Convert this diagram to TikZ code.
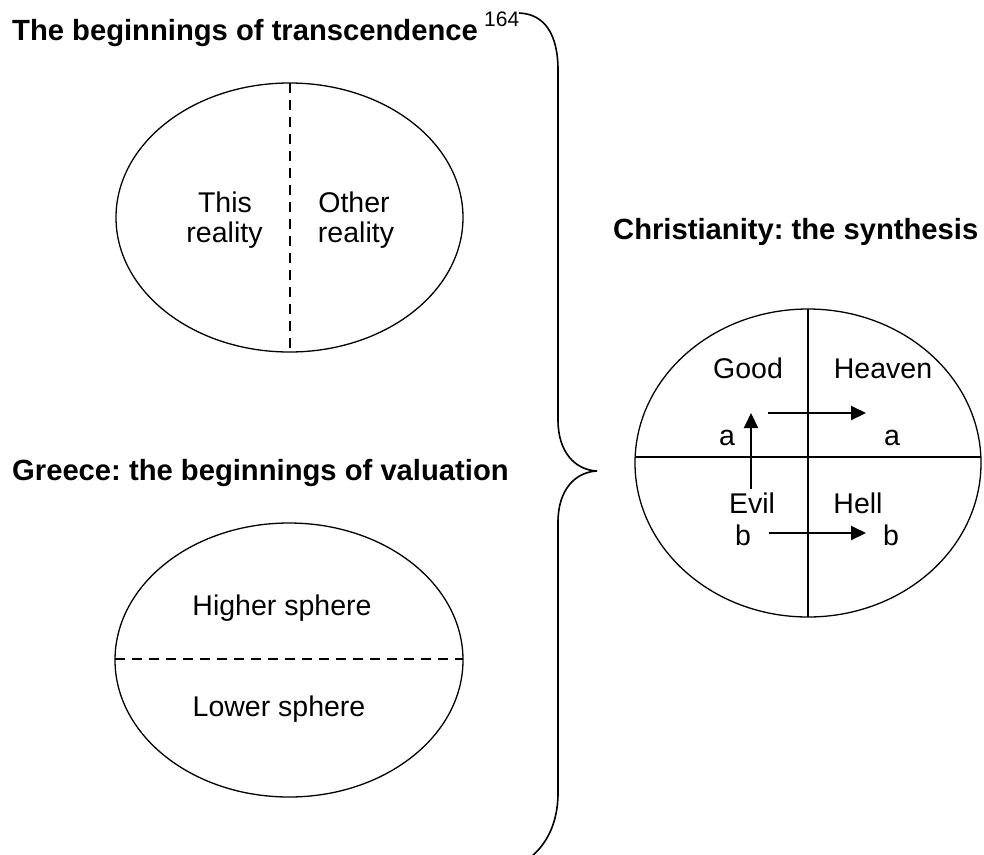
\documentclass[tikz,border=0pt]{standalone}
\usepackage{fontspec}
\setmainfont{Liberation Sans}
\usetikzlibrary{arrows.meta}
\frenchspacing
\begin{document}
\begin{tikzpicture}[x=1pt,y=-1pt,
  lbl/.style={font=\fontsize{28.5}{34}\selectfont, inner sep=0pt, anchor=base},
  hdg/.style={font=\fontsize{29.2}{35}\selectfont\bfseries, inner sep=0pt, anchor=base west},
  oval/.style={line width=1.3pt},
  divider/.style={line width=1.6pt},
  dashdiv/.style={line width=1.3pt, dash pattern=on 10pt off 7pt},
  flow/.style={line width=2pt, -{Triangle[length=15pt,width=14pt]}},
  bracestyle/.style={line width=1.6pt}]
\useasboundingbox (0,0) rectangle (984,854);

% headings
\node[hdg] (h1) at (12,40) {The beginnings of transcendence};
\node[font=\fontsize{21}{25}\selectfont, inner sep=0pt, anchor=base west] (n164) at (484,26) {164};
\node[hdg] (h2) at (12,480) {Greece: the beginnings of valuation};
\node[hdg] (h3) at (613,239) {Christianity: the synthesis};

% ellipse 1
\draw[oval] (289.5,217.5) ellipse [x radius=173.5pt, y radius=134.5pt];
\coordinate (d1t) at (290,83);
\coordinate (d1b) at (290,352);
\draw[dashdiv] (d1t) -- (d1b);
\node[lbl] (this) at (225,212) {This};
\node[lbl] (thisr) at (224.5,242) {reality};
\node[lbl] (other) at (354,212) {Other};
\node[lbl] (otherr) at (356,242) {reality};

% ellipse 2
\draw[oval] (289,660) ellipse [x radius=174pt, y radius=137pt];
\coordinate (d2l) at (115,659);
\coordinate (d2r) at (463,659);
\draw[dashdiv] (d2l) -- (d2r);
\node[lbl] (higher) at (282,615) {Higher sphere};
\node[lbl] (lower) at (279,716) {Lower sphere};

% ellipse 3
\draw[oval] (808,463) ellipse [x radius=173pt, y radius=154pt];
\coordinate (hl) at (635.1,457);
\coordinate (hr) at (980.9,457);
\coordinate (vt) at (808,309);
\coordinate (vb) at (808,617);
\draw[divider] (hl) -- (hr);
\draw[divider] (vt) -- (vb);
\node[lbl] (good) at (748,378) {Good};
\node[lbl] (heaven) at (883,378) {Heaven};
\node[lbl] (a1) at (727,445) {a};
\node[lbl] (a2) at (892,445) {a};
\node[lbl] (evil) at (752,513) {Evil};
\node[lbl] (hell) at (858,513) {Hell};
\node[lbl] (b1) at (743,545) {b};
\node[lbl] (b2) at (891,545) {b};
\coordinate (upS) at (751,489);
\coordinate (upE) at (751,413);
\coordinate (raS) at (768,413);
\coordinate (raE) at (866,413);
\coordinate (rbS) at (769,533);
\coordinate (rbE) at (866,533);
\draw[flow] (upS) -- (upE);
\draw[flow] (raS) -- (raE);
\draw[flow] (rbS) -- (rbE);

% brace
\draw[bracestyle] (519,13) .. controls (545,14) and (558,35) .. (558,70)
  -- (558,420) .. controls (558,452) and (575,470) .. (597,471)
  .. controls (575,472) and (558,490) .. (558,522)
  -- (558,793) .. controls (558,825) and (545,845) .. (532,856);
\end{tikzpicture}
\end{document}
